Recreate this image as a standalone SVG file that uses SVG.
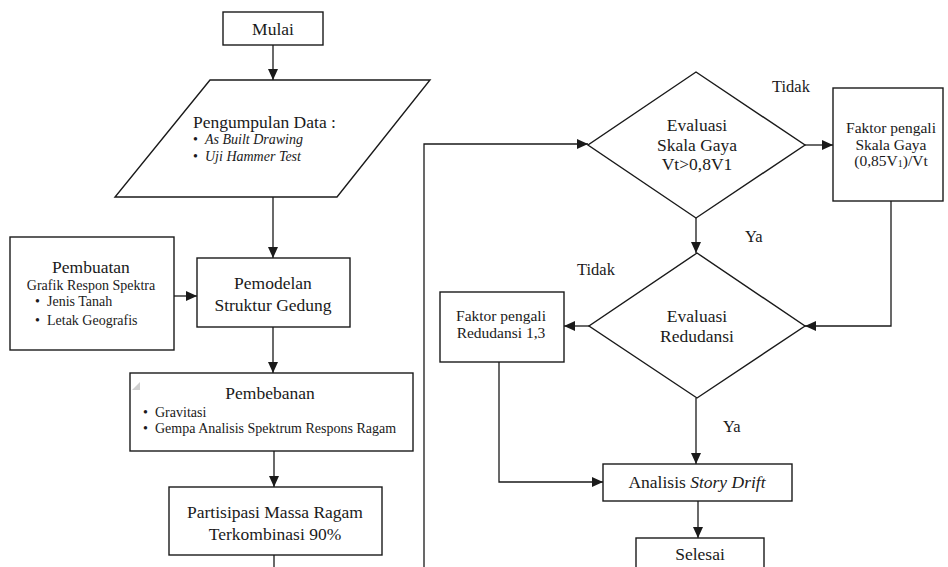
<svg xmlns="http://www.w3.org/2000/svg" width="948" height="567" viewBox="0 0 948 567">
<style>
.box{fill:#fff;stroke:#1a1a1a;stroke-width:1.4}
.ln{fill:none;stroke:#1a1a1a;stroke-width:1.3}
text{fill:#1a1a1a}
.t{font-size:17.5px;text-anchor:middle}
.s{font-size:14px}
.m{font-size:15.5px;text-anchor:middle}
.lbl{font-size:16.5px}
.i{font-style:italic}
</style>
<defs>
<marker id="ah" markerUnits="userSpaceOnUse" markerWidth="12" markerHeight="10" refX="11" refY="5" orient="auto">
<path d="M0,0 L11,5 L0,10 Z" fill="#1a1a1a"/>
</marker>
</defs>
<rect width="948" height="567" fill="#fff"/>
<g id="connectors">
<path class="ln" d="M273,45 V80" marker-end="url(#ah)"/>
<path class="ln" d="M273,197 V258" marker-end="url(#ah)"/>
<path class="ln" d="M174,296 H197" marker-end="url(#ah)"/>
<path class="ln" d="M273,327 V373" marker-end="url(#ah)"/>
<path class="ln" d="M274,451 V487" marker-end="url(#ah)"/>
<path class="ln" d="M274,555 V567"/>
<path class="ln" d="M424,567 V144 H588" marker-end="url(#ah)"/>
<path class="ln" d="M805,145 H833" marker-end="url(#ah)"/>
<path class="ln" d="M696,218 V253" marker-end="url(#ah)"/>
<path class="ln" d="M891,201 V326 H805" marker-end="url(#ah)"/>
<path class="ln" d="M589,326 H564" marker-end="url(#ah)"/>
<path class="ln" d="M696,398 V464" marker-end="url(#ah)"/>
<path class="ln" d="M499,362 V482 H603" marker-end="url(#ah)"/>
<path class="ln" d="M698,501 V538" marker-end="url(#ah)"/>
</g>
<g font-family="'Liberation Serif', 'DejaVu Serif', serif">
<g id="mulai">
<rect class="box" x="223" y="12" width="100" height="33"/>
<text class="t" x="273" y="35">Mulai</text>
</g>
<g id="pengumpulan">
<polygon class="box" points="210,80 430,80 337,197 115,197"/>
<text x="193" y="128" style="font-size:17.5px">Pengumpulan Data :</text>
<text class="s" x="193" y="144">•</text>
<text class="s i" x="205" y="144">As Built Drawing</text>
<text class="s" x="193" y="161">•</text>
<text class="s i" x="205" y="161">Uji Hammer Test</text>
</g>
<g id="pembuatan">
<rect class="box" x="10" y="237" width="164" height="113"/>
<text class="t" x="91" y="273">Pembuatan</text>
<text class="s" x="91" y="290" text-anchor="middle">Grafik Respon Spektra</text>
<text class="s" x="35" y="306">•</text>
<text class="s" x="47" y="306">Jenis Tanah</text>
<text class="s" x="35" y="325">•</text>
<text class="s" x="47" y="325">Letak Geografis</text>
</g>
<g id="pemodelan">
<rect class="box" x="197" y="258" width="153" height="69"/>
<text class="t" x="273" y="289">Pemodelan</text>
<text class="t" x="273" y="311">Struktur Gedung</text>
</g>
<g id="pembebanan">
<rect class="box" x="130" y="373" width="283" height="78"/>
<polygon points="132,390 140,382 140,390" fill="#cfcfcf"/>
<text class="t" x="270" y="399">Pembebanan</text>
<text class="s" x="143" y="417">•</text>
<text class="s" x="155" y="417">Gravitasi</text>
<text class="s" x="143" y="433">•</text>
<text class="s" x="155" y="433">Gempa Analisis Spektrum Respons Ragam</text>
</g>
<g id="partisipasi">
<rect class="box" x="169" y="487" width="213" height="68"/>
<text class="t" x="275" y="518">Partisipasi Massa Ragam</text>
<text class="t" x="275" y="540">Terkombinasi 90%</text>
</g>
<g id="evaluasi-skala">
<polygon class="box" points="696,72 805,145 696,218 588,145"/>
<text class="t" x="697" y="131">Evaluasi</text>
<text class="t" x="697" y="151">Skala Gaya</text>
<text class="t" x="697" y="170">Vt&gt;0,8V1</text>
</g>
<g id="faktor-skala">
<rect class="box" x="833" y="88" width="110" height="113"/>
<text class="m" x="891" y="133">Faktor pengali</text>
<text class="m" x="891" y="150">Skala Gaya</text>
<text class="m" x="891" y="166">(0,85V<tspan font-size="10" dy="1">1</tspan><tspan dy="-1">)/Vt</tspan></text>
</g>
<g id="evaluasi-redudansi">
<polygon class="box" points="697,253 805,326 697,398 589,326"/>
<text class="t" x="697" y="322">Evaluasi</text>
<text class="t" x="697" y="342">Redudansi</text>
</g>
<g id="faktor-redudansi">
<rect class="box" x="440" y="292" width="124" height="70"/>
<text class="m" x="501" y="321">Faktor pengali</text>
<text class="m" x="501" y="338">Redudansi 1,3</text>
</g>
<g id="analisis">
<rect class="box" x="603" y="464" width="189" height="37"/>
<text class="t" x="697" y="488">Analisis <tspan class="i">Story Drift</tspan></text>
</g>
<g id="selesai">
<rect class="box" x="636" y="538" width="128" height="40"/>
<text class="t" x="700" y="560">Selesai</text>
</g>
<g id="labels">
<text class="lbl" x="772" y="92">Tidak</text>
<text class="lbl" x="745" y="242">Ya</text>
<text class="lbl" x="577" y="275">Tidak</text>
<text class="lbl" x="723" y="432">Ya</text>
</g>
</g>
</svg>
